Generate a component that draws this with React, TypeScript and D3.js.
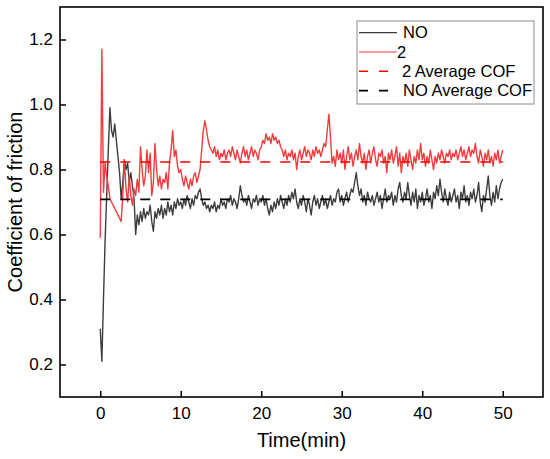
import React, { useEffect, useMemo, useRef } from "react";
import * as d3 from "d3";

// sampling interval of both recordings (min)
const SAMPLE_STEP = 0.2;

const noValues = [
  0.31, 0.21, 0.40, 0.58, 0.72, 0.86, 0.99, 0.92, 0.90, 0.94,
  0.89, 0.84, 0.79, 0.71, 0.76, 0.83, 0.80, 0.82, 0.76, 0.79,
  0.75, 0.71, 0.60, 0.66, 0.63, 0.67, 0.64, 0.68, 0.65, 0.67,
  0.66, 0.69, 0.64, 0.61, 0.67, 0.65, 0.68, 0.66, 0.69, 0.65,
  0.68, 0.66, 0.70, 0.67, 0.69, 0.66, 0.70, 0.68, 0.71, 0.69,
  0.70, 0.68, 0.71, 0.69, 0.72, 0.70, 0.68, 0.71, 0.69, 0.72,
  0.71, 0.73, 0.74, 0.71, 0.69, 0.70, 0.68, 0.69, 0.67, 0.69,
  0.68, 0.70, 0.67, 0.69, 0.68, 0.71, 0.69, 0.70, 0.68, 0.71,
  0.70, 0.72, 0.69, 0.71, 0.70, 0.68, 0.71, 0.75, 0.72, 0.70,
  0.71, 0.69, 0.72, 0.70, 0.68, 0.71, 0.70, 0.72, 0.69, 0.71,
  0.70, 0.72, 0.69, 0.71, 0.68, 0.66, 0.69, 0.67, 0.70, 0.68,
  0.71, 0.69, 0.72, 0.70, 0.68, 0.71, 0.69, 0.72, 0.70, 0.73,
  0.71, 0.74, 0.70, 0.68, 0.71, 0.69, 0.72, 0.70, 0.67, 0.71,
  0.69, 0.66, 0.70, 0.72, 0.69, 0.71, 0.68, 0.70, 0.72, 0.69,
  0.71, 0.68, 0.70, 0.72, 0.69, 0.71, 0.70, 0.73, 0.74, 0.70,
  0.72, 0.69, 0.71, 0.73, 0.70, 0.72, 0.74, 0.73, 0.76, 0.79,
  0.75, 0.72, 0.74, 0.70, 0.72, 0.69, 0.73, 0.71, 0.70, 0.72,
  0.69, 0.71, 0.73, 0.70, 0.72, 0.68, 0.71, 0.74, 0.70, 0.72,
  0.71, 0.73, 0.69, 0.72, 0.70, 0.74, 0.76, 0.72, 0.70, 0.73,
  0.71, 0.76, 0.72, 0.69, 0.73, 0.70, 0.74, 0.68, 0.72, 0.70,
  0.73, 0.69, 0.71, 0.74, 0.70, 0.72, 0.68, 0.73, 0.71, 0.75,
  0.72, 0.77, 0.73, 0.70, 0.74, 0.71, 0.69, 0.73, 0.70, 0.72,
  0.74, 0.70, 0.72, 0.68, 0.73, 0.71, 0.75, 0.70, 0.72, 0.69,
  0.73, 0.71, 0.74, 0.70, 0.72, 0.76, 0.70, 0.67, 0.72, 0.70,
  0.74, 0.78, 0.72, 0.69, 0.73, 0.70, 0.75, 0.71, 0.74, 0.76,
  0.77,
];

const twoValues = [
  0.59, 1.17, 0.73, 0.82, 0.78, 0.75, 0.71, 0.70, 0.69, 0.68,
  0.67, 0.66, 0.65, 0.64, 0.72, 0.83, 0.74, 0.70, 0.78, 0.72,
  0.69, 0.74, 0.72, 0.77, 0.73, 0.87, 0.80, 0.75, 0.78, 0.86,
  0.79, 0.85, 0.72, 0.76, 0.88, 0.80, 0.75, 0.78, 0.74, 0.77,
  0.76, 0.79, 0.74, 0.82, 0.86, 0.92, 0.84, 0.86, 0.81, 0.79,
  0.80, 0.77, 0.75, 0.78, 0.76, 0.74, 0.77, 0.75, 0.78, 0.79,
  0.76, 0.78, 0.80, 0.86, 0.92, 0.95, 0.92, 0.89, 0.87, 0.86,
  0.85, 0.87, 0.84, 0.86, 0.83, 0.85, 0.84, 0.86, 0.83, 0.85,
  0.86, 0.84, 0.87, 0.85, 0.83, 0.86, 0.84, 0.82, 0.85, 0.87,
  0.84, 0.86, 0.83, 0.85, 0.87, 0.84, 0.86, 0.85, 0.83, 0.86,
  0.87, 0.89, 0.88, 0.91, 0.89, 0.90, 0.88, 0.91, 0.89, 0.90,
  0.88, 0.89, 0.87, 0.86, 0.84, 0.86, 0.83, 0.85, 0.84, 0.86,
  0.83, 0.85, 0.80, 0.84, 0.86, 0.83, 0.85, 0.87, 0.84, 0.86,
  0.85, 0.83, 0.86, 0.84, 0.87, 0.85, 0.86, 0.84, 0.86, 0.88,
  0.87, 0.92, 0.97, 0.90, 0.82, 0.84, 0.81, 0.86, 0.83, 0.85,
  0.82, 0.86, 0.80, 0.84, 0.87, 0.83, 0.85, 0.81, 0.84, 0.86,
  0.83, 0.88, 0.84, 0.82, 0.85, 0.80, 0.84, 0.86, 0.82, 0.85,
  0.87, 0.83, 0.81, 0.85, 0.84, 0.86, 0.82, 0.84, 0.79, 0.85,
  0.83, 0.86, 0.82, 0.84, 0.87, 0.81, 0.85, 0.79, 0.84, 0.82,
  0.85, 0.81, 0.86, 0.83, 0.80, 0.84, 0.82, 0.86, 0.83, 0.88,
  0.83, 0.85, 0.81, 0.84, 0.82, 0.86, 0.83, 0.80, 0.84, 0.82,
  0.85, 0.83, 0.86, 0.84, 0.82, 0.85, 0.84, 0.86, 0.83, 0.85,
  0.84, 0.86, 0.83, 0.85, 0.87, 0.84, 0.86, 0.83, 0.85, 0.87,
  0.84, 0.86, 0.85, 0.88, 0.84, 0.82, 0.86, 0.84, 0.81, 0.85,
  0.83, 0.86, 0.82, 0.84, 0.81, 0.85, 0.83, 0.86, 0.82, 0.84,
  0.86,
];

const NO_AVERAGE = 0.708;
const TWO_AVERAGE = 0.823;
const AVERAGE_SPAN = [0, 50];

const xTicks = [0, 10, 20, 30, 40, 50];
const yTicks = [0.2, 0.4, 0.6, 0.8, 1.0, 1.2];

const legendItems = [
  { label: "NO", color: "#3d3d3d", dash: null, textGap: 6 },
  { label: "2", color: "#f03c3c", dash: null, textGap: 0 },
  { label: "2 Average COF", color: "#ff0000", dash: "9,11", textGap: 5 },
  { label: "NO Average COF", color: "#000000", dash: "9,11", textGap: 6 },
];

const WIDTH = 550;
const HEIGHT = 459;
const PLOT_LEFT = 60;
const PLOT_RIGHT = 543;
const PLOT_TOP = 7;
const PLOT_BOTTOM = 397;
const FONT = "'Liberation Sans', Arial, sans-serif";

export default function App() {
  const gX = useRef<SVGGElement>(null);
  const gY = useRef<SVGGElement>(null);

  const x = useMemo(
    () => d3.scaleLinear().domain([-5, 55]).range([PLOT_LEFT, PLOT_RIGHT]),
    []
  );
  const y = useMemo(
    () => d3.scaleLinear().domain([0.1, 1.3]).range([PLOT_BOTTOM, PLOT_TOP]),
    []
  );

  const line = d3
    .line<number>()
    .x((_, i) => x(i * SAMPLE_STEP))
    .y((d) => y(d));

  useEffect(() => {
    const xAxis = d3
      .axisBottom(x)
      .tickValues(xTicks)
      .tickSizeInner(-6)
      .tickSizeOuter(0)
      .tickPadding(10)
      .tickFormat(d3.format("d"));
    d3.select(gX.current)
      .call(xAxis as any)
      .call((g) => g.select(".domain").remove())
      .call((g) =>
        g.selectAll(".tick line").attr("stroke", "#000").attr("stroke-width", 1.5)
      )
      .call((g) =>
        g
          .selectAll(".tick text")
          .attr("fill", "#000")
          .attr("font-size", 17)
          .attr("font-family", FONT)
      );

    const yAxis = d3
      .axisLeft(y)
      .tickValues(yTicks)
      .tickSizeInner(-6)
      .tickSizeOuter(0)
      .tickPadding(7)
      .tickFormat(d3.format(".1f"));
    d3.select(gY.current)
      .call(yAxis as any)
      .call((g) => g.select(".domain").remove())
      .call((g) =>
        g.selectAll(".tick line").attr("stroke", "#000").attr("stroke-width", 1.5)
      )
      .call((g) =>
        g
          .selectAll(".tick text")
          .attr("fill", "#000")
          .attr("font-size", 17)
          .attr("font-family", FONT)
      );
  }, [x, y]);

  const legendX = 357;
  const legendY = 21;

  return (
    <svg
      width={WIDTH}
      height={HEIGHT}
      style={{ position: "absolute", left: 0, top: 0, background: "#fff" }}
    >
      <rect width={WIDTH} height={HEIGHT} fill="#fff" />

      {/* series */}
      <path
        d={line(noValues) ?? ""}
        fill="none"
        stroke="#3d3d3d"
        strokeWidth={1.4}
        strokeLinejoin="round"
      />
      <path
        d={line(twoValues) ?? ""}
        fill="none"
        stroke="#f03c3c"
        strokeWidth={1.4}
        strokeLinejoin="round"
      />

      {/* averages */}
      <line
        x1={x(AVERAGE_SPAN[0])}
        x2={x(AVERAGE_SPAN[1])}
        y1={y(TWO_AVERAGE)}
        y2={y(TWO_AVERAGE)}
        stroke="#ff0000"
        strokeWidth={1.6}
        strokeDasharray="10,10"
      />
      <line
        x1={x(AVERAGE_SPAN[0])}
        x2={x(AVERAGE_SPAN[1])}
        y1={y(NO_AVERAGE)}
        y2={y(NO_AVERAGE)}
        stroke="#000"
        strokeWidth={1.6}
        strokeDasharray="10,10"
      />

      {/* frame */}
      <rect
        x={PLOT_LEFT}
        y={PLOT_TOP}
        width={PLOT_RIGHT - PLOT_LEFT}
        height={PLOT_BOTTOM - PLOT_TOP}
        fill="none"
        stroke="#000"
        strokeWidth={1.6}
      />
      <g ref={gX} transform={`translate(0, ${PLOT_BOTTOM})`} />
      <g ref={gY} transform={`translate(${PLOT_LEFT}, 0)`} />

      {/* axis titles */}
      <text
        x={(PLOT_LEFT + PLOT_RIGHT) / 2}
        y={447}
        textAnchor="middle"
        fontSize={20}
        fontFamily={FONT}
      >
        Time(min)
      </text>
      <text
        transform={`translate(22, ${(PLOT_TOP + PLOT_BOTTOM) / 2}) rotate(-90)`}
        textAnchor="middle"
        fontSize={20}
        fontFamily={FONT}
      >
        Coefficient of friction
      </text>

      {/* legend */}
      <rect
        x={legendX}
        y={legendY}
        width={177}
        height={83}
        fill="#fff"
        stroke="#8c8c8c"
        strokeWidth={1}
      />
      {legendItems.map((item, i) => {
        const ly = legendY + 11.7 + i * 19.3;
        const x2 = item.dash ? legendX + 32 : legendX + 40;
        return (
          <g key={item.label}>
            <line
              x1={legendX + 2}
              x2={x2}
              y1={ly}
              y2={ly}
              stroke={item.color}
              strokeWidth={item.dash ? 1.6 : 1.2}
              strokeDasharray={item.dash ?? undefined}
            />
            <text
              x={legendX + 40 + item.textGap}
              y={ly + 5.5}
              fontSize={16.5}
              fontFamily={FONT}
            >
              {item.label}
            </text>
          </g>
        );
      })}
    </svg>
  );
}
